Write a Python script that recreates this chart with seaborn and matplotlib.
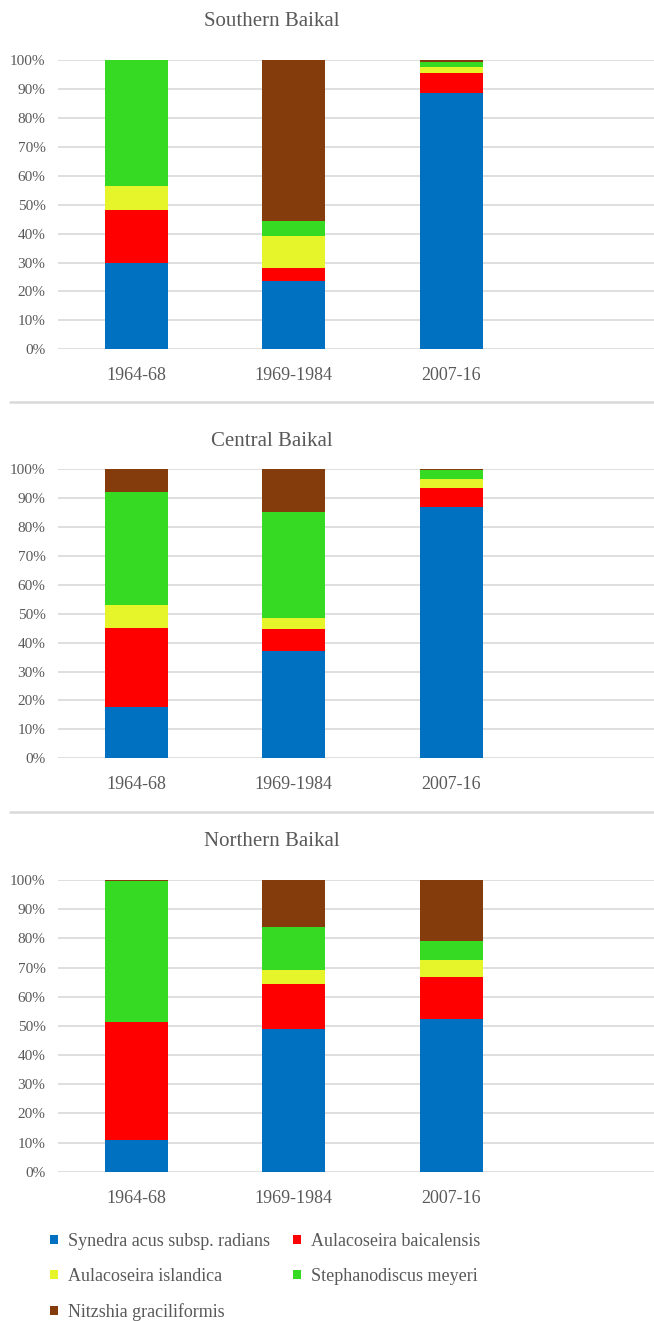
import matplotlib
matplotlib.use("Agg")
import matplotlib.pyplot as plt
import seaborn as sns
import numpy as np
import pandas as pd
from matplotlib.patches import Patch
from matplotlib.lines import Line2D

# data (shares, %)
periods = ["1964-68", "1969-1984", "2007-16"]
species = ["Synedra acus subsp. radians", "Aulacoseira baicalensis",
           "Aulacoseira islandica", "Stephanodiscus meyeri", "Nitzshia graciliformis"]
colors = ["#0070C0", "#FF0000", "#E5F52A", "#36DA22", "#843C0C"]

southern = {
    "Synedra acus subsp. radians": [29.7, 23.7, 88.5],
    "Aulacoseira baicalensis": [18.3, 4.5, 6.9],
    "Aulacoseira islandica": [8.5, 10.9, 2.3],
    "Stephanodiscus meyeri": [43.5, 5.4, 1.6],
    "Nitzshia graciliformis": [0.0, 55.5, 0.7],
}
central = {
    "Synedra acus subsp. radians": [17.9, 37.1, 86.9],
    "Aulacoseira baicalensis": [27.0, 7.5, 6.4],
    "Aulacoseira islandica": [8.0, 3.8, 3.2],
    "Stephanodiscus meyeri": [39.3, 36.9, 3.1],
    "Nitzshia graciliformis": [7.8, 14.7, 0.4],
}
northern = {
    "Synedra acus subsp. radians": [10.7, 48.9, 52.3],
    "Aulacoseira baicalensis": [40.7, 15.3, 14.5],
    "Aulacoseira islandica": [0.0, 5.1, 5.9],
    "Stephanodiscus meyeri": [48.3, 14.7, 6.3],
    "Nitzshia graciliformis": [0.3, 16.0, 21.0],
}
panels = [("Southern Baikal", southern), ("Central Baikal", central), ("Northern Baikal", northern)]

W, H = 654, 1321
txt_color = "#595959"
grid_color = "#D9D9D9"
serif = ["Liberation Serif", "DejaVu Serif"]

sns.set_style("white")
plt.rcParams["font.family"] = serif

fig = plt.figure(figsize=(W / 100, H / 100), dpi=100)

# pixel layout: (axes top, axes bottom, title y)
layout = [(60, 349.3, 22), (469, 758.3, 441), (880, 1171.7, 842)]
left = 58

for (title, data), (top, bottom, ty) in zip(panels, layout):
    ax = fig.add_axes([left / W, 1 - bottom / H, (W - left) / W, (bottom - top) / H])
    df = pd.DataFrame(data, index=periods)
    cum = df[species].cumsum(axis=1)
    # draw cumulative totals from the top series down so lower ones paint over
    for sp, col in zip(species[::-1], colors[::-1]):
        sns.barplot(x=periods, y=cum[sp].values, color=col, width=0.4,
                    saturation=1, linewidth=0, ax=ax, zorder=3)
    ax.set_ylim(0, 100)
    ax.set_xlim(-0.5, 3.29)
    ax.set_yticks(np.arange(0, 101, 10))
    ax.set_yticklabels([f"{v}%" for v in range(0, 101, 10)])
    ax.yaxis.grid(True, color=grid_color, linewidth=1.2, zorder=0)
    ax.set_axisbelow(True)
    for s in ax.spines.values():
        s.set_visible(False)
    ax.tick_params(axis="y", length=0, pad=9, labelsize=11, labelcolor=txt_color)
    ax.tick_params(axis="x", length=0, pad=13, labelsize=13, labelcolor=txt_color)
    ax.set_xlabel("")
    ax.set_ylabel("")
    fig.text(272 / W, 1 - ty / H, title, ha="center", va="center",
             fontsize=15, color=txt_color)

# separator lines between the panels
for y in [401.7, 811.7]:
    fig.add_artist(Line2D([10 / W, 1], [1 - y / H, 1 - y / H], color=grid_color,
                          linewidth=1.8, transform=fig.transFigure))

# legend, filled row by row
handles = [Patch(facecolor=c, edgecolor="none") for c in colors]
order = [0, 2, 4, 1, 3]
leg = fig.legend([handles[i] for i in order], [species[i] for i in order],
                 ncol=2, loc="upper left", bbox_to_anchor=(50 / W, 1 - 1233 / H),
                 frameon=False, fontsize=13, handlelength=0.44, handleheight=0.44,
                 handletextpad=0.55, columnspacing=1.3, labelspacing=1.0,
                 borderaxespad=0, borderpad=0)
for t in leg.get_texts():
    t.set_color(txt_color)

fig.savefig("out.png", dpi=100)
